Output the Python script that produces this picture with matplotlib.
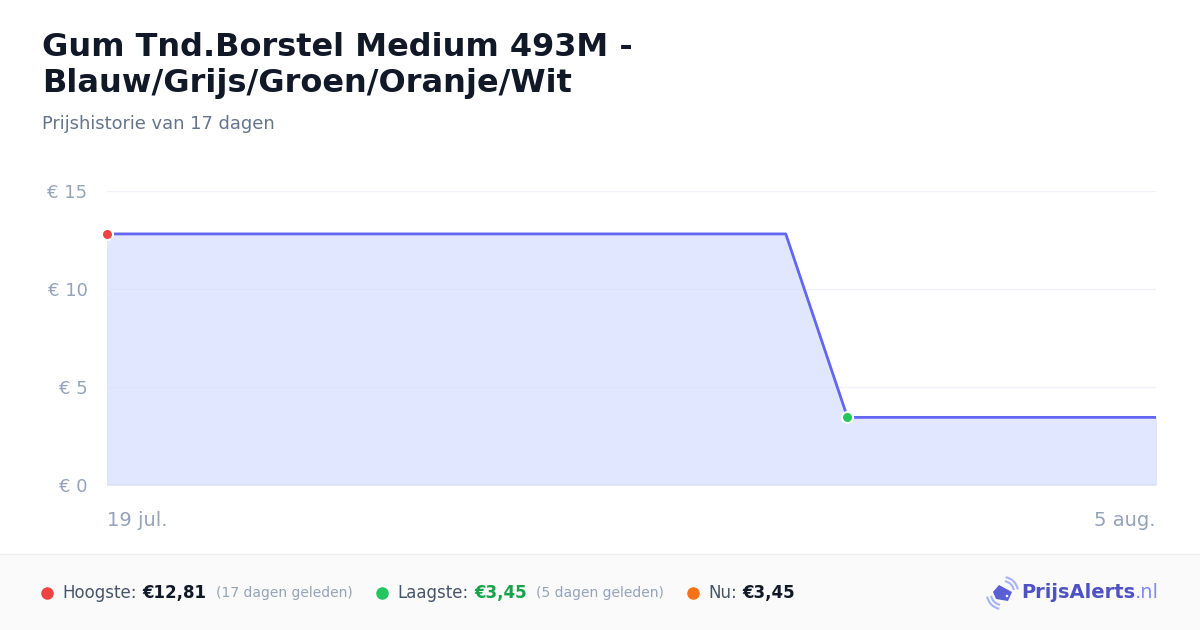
import matplotlib
matplotlib.use("Agg")
import matplotlib.pyplot as plt
from matplotlib.patches import Rectangle, Polygon, Arc, Circle

# data
dagen = [0, 11, 12, 17]
prijzen = [12.81, 12.81, 3.45, 3.45]
x_labels = ["19 jul.", "5 aug."]
y_ticks = [0, 5, 10, 15]
y_labels = ["€ 0", "€ 5", "€ 10", "€ 15"]
titel = "Gum Tnd.Borstel Medium 493M -\nBlauw/Grijs/Groen/Oranje/Wit"
ondertitel = "Prijshistorie van 17 dagen"
hoogste = "€12,81"
laagste = "€3,45"
nu = "€3,45"

plt.rcParams['font.family'] = ['DejaVu Sans']

W, H = 1200, 630
fig = plt.figure(figsize=(12, 6.3), dpi=100)
fig.patch.set_facecolor("white")

# footer band
fig.patches.append(Rectangle((0, 0), 1, 76 / H, transform=fig.transFigure,
                             facecolor="#fafafa", edgecolor="none", zorder=0))
fig.lines.append(plt.Line2D([0, 1], [76 / H, 76 / H], transform=fig.transFigure,
                            color="#eeeeee", lw=1))

ax = fig.add_axes([107 / W, 145 / H, 1049 / W, 294 / H])
ax.set_xlim(0, 17)
ax.set_ylim(0, 15)

ax.fill_between(dagen, prijzen, 0, color="#e0e7ff", zorder=1)
ax.plot(dagen, prijzen, color="#6366f1", lw=2, zorder=3)

# hoogste en laagste punt
i_max = prijzen.index(max(prijzen))
i_min = prijzen.index(min(prijzen))
ax.plot(dagen[i_max], prijzen[i_max], "o", ms=8, color="#ef4444", mec="white", mew=1.5, zorder=4, clip_on=False)
ax.plot(dagen[i_min], prijzen[i_min], "o", ms=8, color="#22c55e", mec="white", mew=1.5, zorder=4, clip_on=False)

for t in y_ticks[1:]:
    ax.axhline(t, color="#d8dcef", lw=1, alpha=0.35, zorder=2)
ax.axhline(0, color="#dde0ee", lw=1.5, zorder=2)

for s in ax.spines.values():
    s.set_visible(False)
ax.set_yticks(y_ticks)
ax.set_yticklabels(y_labels, color="#94a3b8", fontsize=13)
ax.set_xticks([0, 17])
ax.set_xticklabels(x_labels, color="#94a3b8", fontsize=14)
ax.get_xticklabels()[0].set_ha("left")
ax.get_xticklabels()[1].set_ha("right")
ax.tick_params(length=0)
ax.tick_params(axis="y", pad=14)
ax.tick_params(axis="x", pad=19)

# titels
fig.text(42 / W, 1 - 32 / H, titel, fontsize=23, fontweight="bold",
         color="#111827", va="top", linespacing=1.22)
fig.text(42 / W, 1 - 124 / H, ondertitel, fontsize=12.9, color="#64748b", va="center")

# footer, tekst achter elkaar gezet
fig.canvas.draw()
renderer = fig.canvas.get_renderer()
fy = 1 - 593 / H

def stuk(x, s, gap=0, **kw):
    txt = fig.text(x / W, fy, s, va="center", **kw)
    bb = txt.get_window_extent(renderer)
    return bb.x1 + gap

def stip(x, kleur):
    fig.lines.append(plt.Line2D([x / W], [fy], marker="o", ms=8, color=kleur,
                                transform=fig.transFigure))

stip(47, "#ef4444")
x = stuk(62, "Hoogste:", 6, fontsize=12, color="#475569")
x = stuk(x, hoogste, 9, fontsize=12, color="#111827", fontweight="bold")
stuk(x, "(17 dagen geleden)", 0, fontsize=10, color="#94a3b8")
stip(382, "#22c55e")
x = stuk(397, "Laagste:", 6, fontsize=12, color="#475569")
x = stuk(x, laagste, 9, fontsize=12, color="#16a34a", fontweight="bold")
stuk(x, "(5 dagen geleden)", 0, fontsize=10, color="#94a3b8")
stip(693, "#f97316")
x = stuk(708, "Nu:", 6, fontsize=12, color="#475569")
stuk(x, nu, 0, fontsize=12, color="#111827", fontweight="bold")

# logo (pixel coordinaten, y van boven)
def px(x, y):
    return (x, H - y)

tag = Polygon([px(993, 592), px(999, 585), px(1012, 592), px(1008, 601), px(996, 599)],
              closed=True, transform=None, facecolor="#5b5fd6", edgecolor="none")
fig.patches.append(tag)
fig.patches.append(Circle(px(1007, 596), 1.3, transform=None, facecolor="white"))
for r in (22, 30):
    fig.patches.append(Arc(px(1003, 592), r, r, theta1=10, theta2=80, transform=None,
                           color="#a5b4fc", lw=1.5))
    fig.patches.append(Arc(px(1002, 594), r, r, theta1=190, theta2=260, transform=None,
                           color="#a5b4fc", lw=1.5))
x = stuk(1021, "PrijsAlerts", 0, fontsize=14, fontweight="bold", color="#4f52c4")
stuk(x, ".nl", 0, fontsize=14, color="#818cf8")

fig.savefig("out.png", dpi=100, facecolor="white")
